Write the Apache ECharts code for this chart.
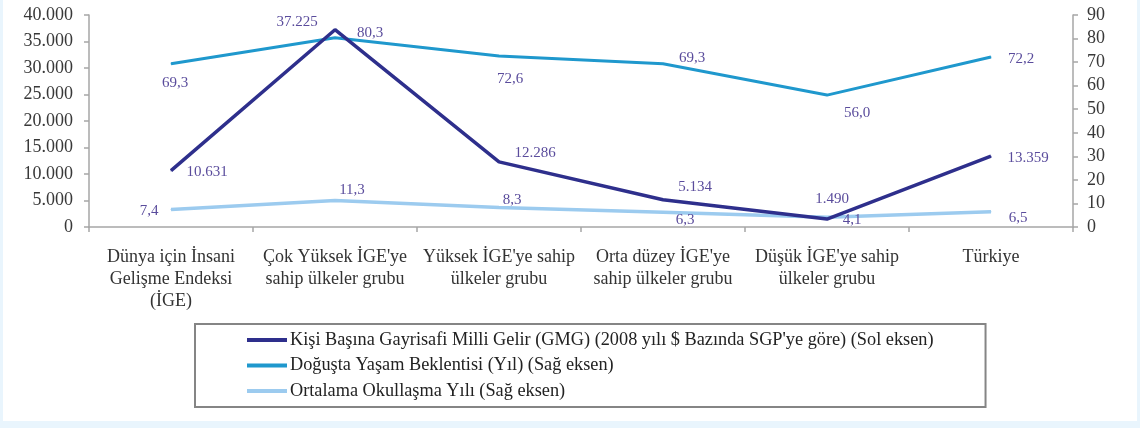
<!DOCTYPE html>
<html>
<head>
<meta charset="utf-8">
<script src="https://cdn.jsdelivr.net/npm/echarts@6/dist/echarts.min.js"></script>
<style>
html,body{margin:0;padding:0;background:#e9f5fd;}
#bg{position:absolute;left:3px;top:0;width:1134px;height:421px;background:#fff;}
#chart{position:absolute;left:0;top:0;width:1140px;height:428px;}
</style>
</head>
<body>
<div id="bg"></div>
<div id="chart"></div>
<script>
const categories = [
  "Dünya için İnsani\nGelişme Endeksi\n(İGE)",
  "Çok Yüksek İGE'ye\nsahip ülkeler grubu",
  "Yüksek İGE'ye sahip\nülkeler grubu",
  "Orta düzey İGE'ye\nsahip ülkeler grubu",
  "Düşük İGE'ye sahip\nülkeler grubu",
  "Türkiye"
];
const seriesNames = [
  "Kişi Başına Gayrisafi Milli Gelir (GMG) (2008 yılı $ Bazında SGP'ye göre) (Sol eksen)",
  "Doğuşta Yaşam Beklentisi (Yıl) (Sağ eksen)",
  "Ortalama Okullaşma Yılı (Sağ eksen)"
];
const gniValues = [10631, 37225, 12286, 5134, 1490, 13359];
const lifeValues = [69.3, 80.3, 72.6, 69.3, 56.0, 72.2];
const schoolValues = [7.4, 11.3, 8.3, 6.3, 4.1, 6.5];
const leftTicks = [0, 5000, 10000, 15000, 20000, 25000, 30000, 35000, 40000];
const rightTicks = [0, 10, 20, 30, 40, 50, 60, 70, 80, 90];

// label placement offsets (layout only)
const gniOffsets = [[36,1],[-38,-8],[36,-9],[32,-13],[5,-20],[37,2]];
const lifeOffsets = [[4,19],[35,-5],[11,23],[29,-6],[30,18],[30,2]];
const schoolOffsets = [[-22,1],[17,-10],[13,-7],[22,8],[25,3],[27,6]];

function fmtThousands(v){ return String(v).replace(/\B(?=(\d{3})+(?!\d))/g, '.'); }
function fmtDec(v){ return v.toFixed(1).replace('.', ','); }

const labelColor = '#5a4c9c';
const serif = '"Liberation Serif", "DejaVu Serif", serif';

function buildData(values, offsets, fmt){
  return values.map((v,i)=>({
    value: v,
    label: { offset: offsets[i], formatter: fmt(v) }
  }));
}

const chart = echarts.init(document.getElementById('chart'));
const axisLine = { show: true, lineStyle: { color: '#a6a6a6', width: 1.5 } };
const axisTick = { show: true, length: 5, lineStyle: { color: '#a6a6a6', width: 1.5 } };
const axisLabelBase = { color: '#383838', fontFamily: serif, fontSize: 18 };

chart.setOption({
  animation: false,
  backgroundColor: 'transparent',
  grid: { left: 89, right: 67, top: 15, bottom: 201, containLabel: false },
  legend: {
    orient: 'vertical',
    left: 195, top: 324,
    padding: [7, 52, 7, 50],
    itemGap: 7.5,
    itemWidth: 40, itemHeight: 14,
    borderColor: '#858585', borderWidth: 2,
    itemStyle: { opacity: 0 },
    lineStyle: { width: 4 },
    textStyle: { fontFamily: serif, fontSize: 18.3, color: '#222', padding: [0,0,0,-2] },
    data: seriesNames
  },
  xAxis: {
    type: 'category',
    data: categories,
    boundaryGap: true,
    axisLine: axisLine,
    axisTick: axisTick,
    splitLine: { show: false },
    axisLabel: Object.assign({}, axisLabelBase, { fontSize: 18, lineHeight: 22, margin: 19, interval: 0, color: '#333' })
  },
  yAxis: [
    {
      type: 'value', position: 'left',
      min: leftTicks[0], max: leftTicks[leftTicks.length-1], interval: leftTicks[1]-leftTicks[0],
      axisLine: axisLine, axisTick: axisTick, splitLine: { show: false },
      axisLabel: Object.assign({}, axisLabelBase, { margin: 16, formatter: v => fmtThousands(v) })
    },
    {
      type: 'value', position: 'right',
      min: rightTicks[0], max: rightTicks[rightTicks.length-1], interval: rightTicks[1]-rightTicks[0],
      axisLine: axisLine, axisTick: axisTick, splitLine: { show: false },
      axisLabel: Object.assign({}, axisLabelBase, { margin: 14 })
    }
  ],
  series: [
    {
      name: seriesNames[0], type: 'line', yAxisIndex: 0,
      data: buildData(gniValues, gniOffsets, fmtThousands),
      symbol: 'circle', symbolSize: 1,
      itemStyle: { color: '#2e2f8c' },
      lineStyle: { color: '#2e2f8c', width: 3.5 },
      label: { show: true, position: 'inside', color: labelColor, fontFamily: serif, fontSize: 15 },
      z: 4
    },
    {
      name: seriesNames[1], type: 'line', yAxisIndex: 1,
      data: buildData(lifeValues, lifeOffsets, fmtDec),
      symbol: 'circle', symbolSize: 1,
      itemStyle: { color: '#1f98cd' },
      lineStyle: { color: '#1f98cd', width: 3 },
      label: { show: true, position: 'inside', color: labelColor, fontFamily: serif, fontSize: 15 },
      z: 3
    },
    {
      name: seriesNames[2], type: 'line', yAxisIndex: 1,
      data: buildData(schoolValues, schoolOffsets, fmtDec),
      symbol: 'circle', symbolSize: 1,
      itemStyle: { color: '#9ccbef' },
      lineStyle: { color: '#9ccbef', width: 3.5 },
      label: { show: true, position: 'inside', color: labelColor, fontFamily: serif, fontSize: 15 },
      z: 2
    }
  ]
});
</script>
</body>
</html>
